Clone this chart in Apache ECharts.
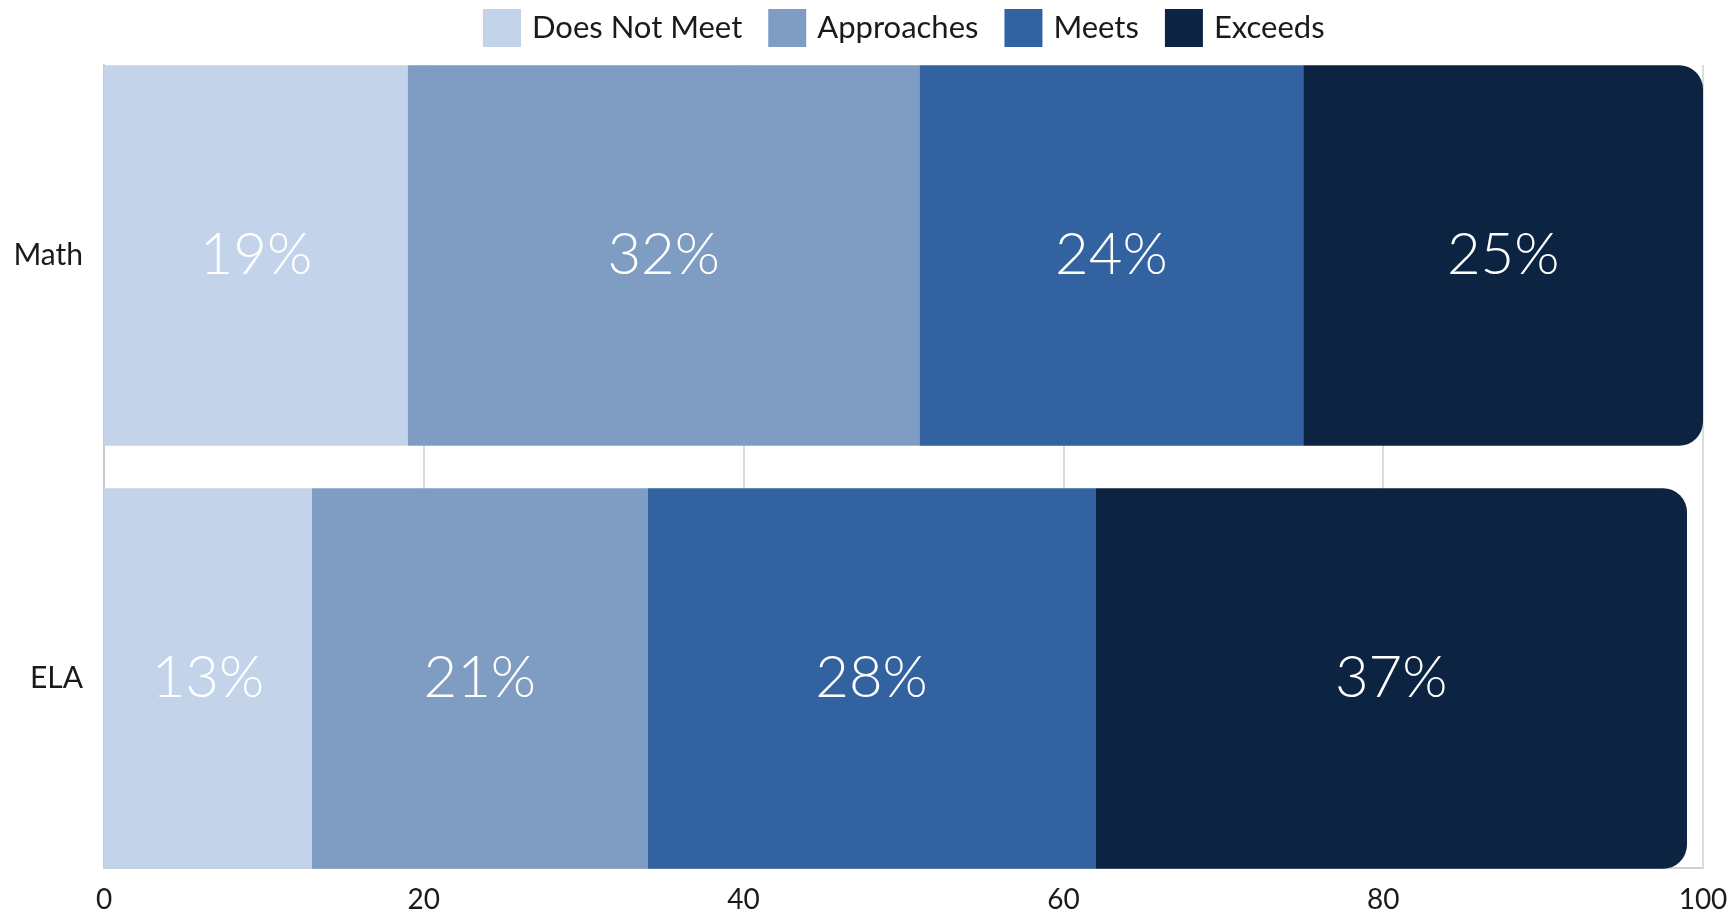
<!DOCTYPE html>
<html>
<head>
<meta charset="utf-8">
<script src="https://cdn.jsdelivr.net/npm/echarts@6/dist/echarts.min.js"></script>
<style>
html,body{margin:0;padding:0;background:#fff;}
#chart{width:1735px;height:914px;}
</style>
</head>
<body>
<div id="chart"></div>
<script>
const categories = ['Math', 'ELA'];
const seriesNames = ['Does Not Meet', 'Approaches', 'Meets', 'Exceeds'];
const doesNotMeet = [19, 13];
const approaches = [32, 21];
const meets = [24, 28];
const exceeds = [25, 37];
const xTicks = [0, 20, 40, 60, 80, 100];

const colors = ['#C2D3EA', '#7F9CC3', '#3263A0', '#0C2342'];
const values = [doesNotMeet, approaches, meets, exceeds];
const FONT = 'Lato';

const chart = echarts.init(document.getElementById('chart'));
const series = seriesNames.map((name, i) => ({
  name: name,
  type: 'bar',
  stack: 'total',
  xAxisIndex: 1,
  yAxisIndex: 1,
  barCategoryGap: '10%',
  data: values[i],
  itemStyle: {
    color: colors[i],
    borderRadius: i === 3 ? [0, 24, 24, 0] : 0
  },
  label: {
    show: true,
    position: 'inside',
    formatter: '{c}%',
    color: '#ffffff',
    fontFamily: FONT,
    fontWeight: 300,
    fontSize: 58
  },
  emphasis: { disabled: true }
}));

chart.setOption({
  animation: false,
  color: colors,
  legend: {
    top: 4,
    left: 478,
    itemWidth: 38,
    itemHeight: 38,
    itemGap: 26,
    icon: 'rect',
    textStyle: { fontFamily: FONT, fontSize: 31, color: '#1a1a1a', padding: [0, 0, 0, 6] },
    data: seriesNames
  },
  grid: [
    { left: 104, right: 32, top: 65, height: 804 },
    { left: 104, right: 32, top: 44, height: 846 }
  ],
  xAxis: [
    {
      gridIndex: 0, type: 'value', min: xTicks[0], max: xTicks[xTicks.length - 1], interval: 20,
      axisLine: { show: true, lineStyle: { color: '#d0d0d0', width: 2 } },
      axisTick: { show: false },
      axisLabel: { show: true, margin: 18, fontFamily: FONT, fontSize: 28, color: '#1a1a1a' },
      splitLine: { show: true, lineStyle: { color: '#dcdcdc', width: 2 } }
    },
    {
      gridIndex: 1, type: 'value', min: 0, max: 100, show: false
    }
  ],
  yAxis: [
    {
      gridIndex: 0, type: 'value', min: 0, max: 1,
      axisLine: { show: true, lineStyle: { color: '#c8c8c8', width: 2 } },
      axisTick: { show: false }, axisLabel: { show: false }, splitLine: { show: false }
    },
    {
      gridIndex: 1, type: 'category', data: categories, inverse: true,
      axisLine: { show: false }, axisTick: { show: false },
      axisLabel: { margin: 21, fontFamily: FONT, fontSize: 30, color: '#1a1a1a' }
    }
  ],
  series: series
});
</script>
</body>
</html>
